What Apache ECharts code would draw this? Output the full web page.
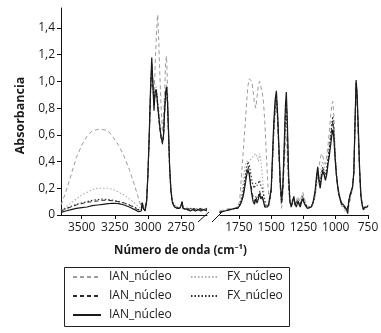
<!DOCTYPE html>
<html>
<head>
<meta charset="utf-8">
<script src="https://cdn.jsdelivr.net/npm/echarts@6/dist/echarts.min.js"></script>
<style>
html,body{margin:0;padding:0;background:#fff;}
#c{width:381px;height:333px;}
</style>
</head>
<body>
<div id="c"></div>
<script>
// ---------- DATA ----------
// Left segment wavenumbers (cm-1)
const wnLeft = [
  3656,3620,3580,3540,3500,3460,3420,3380,3340,3300,
  3260,3220,3180,3140,3100,3070,3050,3043,3035,3022,
  3010,3000,2990,2980,2971,2962,2954,2946,2938,2930,
  2926,2918,2910,2900,2890,2882,2874,2866,2859,2852,
  2844,2836,2826,2816,2800,2780,2760,2750,2742,2735,
  2720,2700,2680,2660,2640,2620,2600,2580,2554
];
// Right segment wavenumbers (cm-1)
const wnRight = [
  1900,1860,1820,1780,1760,1745,1730,1715,1700,1690,
  1680,1670,1660,1650,1640,1630,1620,1610,1600,1590,
  1580,1570,1560,1550,1540,1530,1520,1510,1500,1490,
  1480,1470,1460,1450,1440,1430,1420,1410,1400,1390,
  1383,1375,1365,1355,1345,1335,1325,1315,1305,1295,
  1285,1275,1265,1255,1245,1235,1220,1205,1190,1175,
  1160,1150,1140,1130,1120,1110,1100,1090,1080,1070,
  1060,1050,1040,1030,1023,1015,1005,995,985,975,
  965,955,945,935,925,915,907,900,890,880,
  870,860,850,842,835,825,815,805,795,785,
  775,765,757,750
];

// Series 1: IAN_núcleo (light grey dashed)
const ianLightLeft = [
  0.075,0.17,0.30,0.43,0.52,0.59,0.63,0.64,0.64,0.63,
  0.58,0.52,0.44,0.34,0.22,0.12,0.06,0.10,0.07,0.05,
  0.12,0.30,0.58,0.92,1.05,0.95,0.88,1.10,1.30,1.45,
  1.50,1.30,1.05,0.80,0.62,0.62,0.90,1.15,1.19,0.95,
  0.65,0.38,0.20,0.11,0.07,0.06,0.05,0.06,0.09,0.05,
  0.05,0.04,0.05,0.04,0.05,0.04,0.05,0.04,0.04
];
const ianLightRight = [
  0.03,0.04,0.05,0.05,0.06,0.10,0.30,0.50,0.70,0.85,
  0.97,1.02,1.03,1.00,0.92,0.84,0.80,0.88,0.97,1.00,
  0.96,0.92,0.85,0.70,0.50,0.30,0.15,0.10,0.20,0.40,
  0.60,0.75,0.82,0.70,0.45,0.20,0.05,0.15,0.35,0.55,
  0.60,0.45,0.18,0.10,0.08,0.12,0.10,0.07,0.10,0.14,
  0.12,0.10,0.14,0.17,0.13,0.10,0.07,0.05,0.05,0.08,
  0.14,0.22,0.30,0.36,0.42,0.46,0.44,0.40,0.38,0.44,
  0.52,0.62,0.74,0.83,0.85,0.75,0.50,0.32,0.20,0.14,
  0.10,0.07,0.05,0.04,0.03,0.02,0.03,0.06,0.10,0.15,
  0.20,0.30,0.68,0.97,0.85,0.58,0.30,0.12,0.07,0.04,
  0.05,0.06,0.05,0.06
];

// Series 2: FX_núcleo (light grey dotted)
const fxLightLeft = [
  0.03,0.06,0.09,0.12,0.15,0.17,0.19,0.20,0.20,0.20,
  0.19,0.17,0.15,0.12,0.09,0.06,0.05,0.10,0.06,0.04,
  0.10,0.30,0.60,0.95,1.10,1.00,0.90,0.98,0.96,0.90,
  0.86,0.80,0.70,0.60,0.56,0.62,0.80,0.94,0.98,0.86,
  0.60,0.34,0.17,0.10,0.06,0.05,0.05,0.06,0.09,0.05,
  0.04,0.04,0.04,0.05,0.04,0.04,0.04,0.05,0.04
];
const fxLightRight = [
  0.03,0.03,0.04,0.05,0.05,0.07,0.14,0.28,0.38,0.40,
  0.41,0.41,0.42,0.42,0.44,0.45,0.46,0.44,0.40,0.46,
  0.40,0.30,0.20,0.12,0.08,0.06,0.08,0.09,0.18,0.40,
  0.62,0.78,0.86,0.70,0.48,0.22,0.08,0.18,0.40,0.65,
  0.72,0.55,0.22,0.10,0.07,0.11,0.12,0.08,0.09,0.13,
  0.11,0.08,0.12,0.16,0.12,0.09,0.06,0.05,0.06,0.09,
  0.15,0.24,0.32,0.30,0.28,0.38,0.40,0.36,0.32,0.36,
  0.44,0.52,0.62,0.70,0.72,0.62,0.44,0.30,0.20,0.14,
  0.10,0.08,0.06,0.05,0.04,0.03,0.03,0.08,0.12,0.16,
  0.20,0.30,0.70,0.98,0.88,0.60,0.32,0.13,0.07,0.05,
  0.05,0.06,0.05,0.06
];

// Series 3: IAN_núcleo (dark dashed)
const ianDarkLeft = [
  0.03,0.045,0.06,0.075,0.085,0.095,0.10,0.105,0.11,0.11,
  0.105,0.10,0.09,0.075,0.055,0.035,0.03,0.09,0.05,0.03,
  0.10,0.30,0.58,0.92,1.12,0.98,0.82,0.90,0.92,0.86,
  0.80,0.72,0.64,0.57,0.53,0.58,0.76,0.90,0.93,0.82,
  0.58,0.34,0.17,0.09,0.06,0.05,0.05,0.07,0.10,0.05,
  0.04,0.05,0.04,0.05,0.04,0.05,0.04,0.05,0.04
];
const ianDarkRight = [
  0.02,0.03,0.04,0.05,0.05,0.07,0.10,0.16,0.26,0.33,
  0.37,0.33,0.25,0.18,0.13,0.10,0.14,0.11,0.14,0.18,
  0.14,0.15,0.11,0.07,0.05,0.05,0.07,0.08,0.18,0.42,
  0.66,0.82,0.90,0.72,0.46,0.22,0.08,0.20,0.46,0.76,
  0.86,0.66,0.26,0.10,0.06,0.10,0.13,0.08,0.07,0.11,
  0.09,0.07,0.11,0.13,0.10,0.08,0.05,0.04,0.06,0.09,
  0.16,0.26,0.34,0.27,0.22,0.30,0.34,0.31,0.28,0.32,
  0.40,0.48,0.56,0.66,0.70,0.62,0.44,0.30,0.21,0.15,
  0.11,0.08,0.07,0.06,0.05,0.03,0.02,0.09,0.14,0.17,
  0.21,0.31,0.70,0.99,0.90,0.62,0.33,0.14,0.07,0.04,
  0.05,0.05,0.06,0.07
];

// Series 4: FX_núcleo (dark dotted)
const fxDarkLeft = [
  0.035,0.05,0.065,0.08,0.09,0.10,0.11,0.115,0.12,0.115,
  0.11,0.10,0.09,0.075,0.06,0.04,0.035,0.09,0.05,0.035,
  0.10,0.30,0.58,0.92,1.14,0.98,0.84,0.92,0.94,0.88,
  0.82,0.74,0.66,0.58,0.55,0.60,0.78,0.92,0.95,0.84,
  0.60,0.35,0.18,0.10,0.07,0.06,0.05,0.07,0.10,0.05,
  0.05,0.04,0.05,0.04,0.05,0.04,0.05,0.04,0.05
];
const fxDarkRight = [
  0.02,0.03,0.04,0.05,0.06,0.08,0.12,0.20,0.30,0.36,
  0.40,0.38,0.32,0.26,0.22,0.20,0.24,0.22,0.24,0.26,
  0.22,0.20,0.15,0.10,0.07,0.06,0.07,0.08,0.18,0.40,
  0.64,0.80,0.88,0.72,0.48,0.24,0.09,0.20,0.44,0.72,
  0.82,0.62,0.25,0.10,0.07,0.10,0.12,0.08,0.07,0.11,
  0.10,0.07,0.11,0.14,0.10,0.08,0.06,0.05,0.06,0.09,
  0.16,0.25,0.33,0.28,0.24,0.32,0.36,0.33,0.30,0.34,
  0.42,0.50,0.58,0.68,0.74,0.64,0.46,0.31,0.21,0.15,
  0.11,0.08,0.07,0.06,0.05,0.04,0.03,0.09,0.14,0.17,
  0.21,0.31,0.70,0.98,0.90,0.62,0.33,0.14,0.07,0.04,
  0.05,0.06,0.06,0.07
];

// Series 5: IAN_núcleo (solid black)
const ianSolidLeft = [
  0.02,0.03,0.04,0.05,0.055,0.06,0.07,0.075,0.08,0.085,
  0.088,0.085,0.075,0.06,0.04,0.025,0.03,0.09,0.05,0.03,
  0.10,0.30,0.60,0.95,1.18,0.96,0.78,0.92,0.94,0.87,
  0.82,0.74,0.66,0.58,0.54,0.60,0.78,0.92,0.96,0.85,
  0.62,0.36,0.18,0.10,0.06,0.05,0.05,0.07,0.10,0.05,
  0.04,0.04,0.03,0.04,0.03,0.04,0.03,0.04,0.03
];
const ianSolidRight = [
  0.02,0.03,0.04,0.05,0.05,0.07,0.10,0.15,0.24,0.30,
  0.34,0.30,0.22,0.15,0.10,0.08,0.12,0.09,0.12,0.16,
  0.12,0.14,0.10,0.06,0.05,0.06,0.08,0.08,0.20,0.45,
  0.70,0.86,0.93,0.75,0.50,0.25,0.11,0.22,0.50,0.82,
  0.92,0.70,0.30,0.10,0.06,0.10,0.14,0.08,0.06,0.10,
  0.08,0.06,0.10,0.12,0.09,0.07,0.05,0.04,0.06,0.10,
  0.18,0.28,0.36,0.25,0.20,0.28,0.33,0.30,0.26,0.30,
  0.38,0.44,0.52,0.60,0.64,0.58,0.42,0.30,0.22,0.16,
  0.12,0.09,0.08,0.07,0.06,0.04,0.01,0.10,0.15,0.18,
  0.21,0.32,0.72,1.01,0.92,0.65,0.35,0.15,0.08,0.04,
  0.06,0.05,0.06,0.07
];

// Legend names (zero-width spaces keep the repeated labels distinct)
const seriesNames = ['IAN_núcleo', 'FX_núcleo', 'IAN_núcleo\u200b', 'FX_núcleo\u200b', 'IAN_núcleo\u200b\u200b'];
const xTicksLeft = [3500, 3250, 3000, 2750];
const xTicksRight = [1750, 1500, 1250, 1000, 750];
const yTicks = [0, 0.2, 0.4, 0.6, 0.8, 1.0, 1.2, 1.4];
const xTitle = 'Número de onda (cm⁻¹)';
const yTitle = 'Absorbancia';

// ---------- CHART ----------
const FONT = "'Open Sans', 'Noto Sans', sans-serif";
const TXT = '#1a1a1a';
const styles = [
  {color: '#9c9c9c', width: 1, type: [4, 3]},
  {color: '#b0b0b0', width: 1.1, type: [1.5, 2]},
  {color: '#2a2a2a', width: 1, type: [4, 3]},
  {color: '#2a2a2a', width: 1.1, type: [1.5, 2]},
  {color: '#1a1a1a', width: 1.2, type: 'solid'}
];
const leftData = [ianLightLeft, fxLightLeft, ianDarkLeft, fxDarkLeft, ianSolidLeft];
const rightData = [ianLightRight, fxLightRight, ianDarkRight, fxDarkRight, ianSolidRight];
const zip = (xs, ys) => xs.map((x, i) => [x, ys[i]]);

const series = [];
[0, 1].forEach(g => {
  for (let i = 0; i < 5; i++) {
    series.push({
      type: 'line',
      name: seriesNames[i],
      xAxisIndex: g,
      yAxisIndex: g,
      data: zip(g === 0 ? wnLeft : wnRight, (g === 0 ? leftData : rightData)[i]),
      symbol: 'none',
      lineStyle: styles[i],
      itemStyle: {color: styles[i].color},
      silent: true,
      z: 2 + i
    });
  }
});

const axisLineStyle = {color: '#111', width: 1};
function xAxis(grid, min, max, ticks) {
  return {
    type: 'value', gridIndex: grid, min: min, max: max, inverse: true,
    axisLine: {show: true, onZero: false, lineStyle: axisLineStyle},
    axisTick: {show: true, length: 4, inside: false, customValues: ticks, lineStyle: axisLineStyle},
    axisLabel: {show: true, customValues: ticks, margin: 7, fontFamily: FONT, fontSize: 12, color: TXT,
      formatter: v => String(Math.round(v))},
    splitLine: {show: false}
  };
}
function yAxis(grid, show) {
  return {
    type: 'value', gridIndex: grid, min: 0, max: 1.55, show: show,
    axisLine: {show: true, lineStyle: axisLineStyle},
    axisTick: {show: true, length: 4, customValues: yTicks, lineStyle: axisLineStyle},
    axisLabel: {
      show: true, customValues: yTicks, margin: 6, fontFamily: FONT, fontSize: 12, color: TXT,
      formatter: v => v === 0 ? '0' : v.toFixed(1).replace('.', ',')
    },
    splitLine: {show: false}
  };
}

const legendBase = {
  orient: 'vertical',
  itemWidth: 28, itemHeight: 2, itemGap: 5,
  itemStyle: {opacity: 0, borderWidth: 0},
  padding: 0,
  textStyle: {fontFamily: FONT, fontSize: 12, color: TXT, lineHeight: 14, padding: [0, 0, 0, 3]},
  selectedMode: false
};

const chart = echarts.init(document.getElementById('c'), null, {renderer: 'canvas'});
const option = {
  animation: false,
  backgroundColor: '#fff',
  grid: [
    {left: 61, right: 174, top: 8, bottom: 118, outerBoundsMode: 'none'},
    {left: 220, right: 13, top: 8, bottom: 118, outerBoundsMode: 'none'}
  ],
  xAxis: [xAxis(0, 2554, 3656, xTicksLeft), xAxis(1, 750, 1897, xTicksRight)],
  yAxis: [yAxis(0, true), yAxis(1, false)],
  legend: [
    Object.assign({}, legendBase, {left: 72, top: 270, data: [seriesNames[0], seriesNames[2], seriesNames[4]]}),
    Object.assign({}, legendBase, {left: 190, top: 270, data: [seriesNames[1], seriesNames[3]]})
  ],
  series: series
};
chart.setOption(option);

// Break marks, legend frame and titles
const xEndL = chart.convertToPixel({xAxisIndex: 0}, 2554);
const xStartR = chart.convertToPixel({xAxisIndex: 1}, 1897);
const yAxisPx = chart.convertToPixel({yAxisIndex: 0}, 0);
const yMid = (chart.convertToPixel({yAxisIndex: 0}, 0) + chart.convertToPixel({yAxisIndex: 0}, 1.55)) / 2;
const xMidL = chart.convertToPixel({xAxisIndex: 0}, 3656);
const xEndR = chart.convertToPixel({xAxisIndex: 1}, 750);
chart.setOption({
  graphic: [
    {type: 'line', shape: {x1: xEndL - 9, y1: yAxisPx + 7, x2: xEndL + 2, y2: yAxisPx - 3}, style: {stroke: '#111', lineWidth: 1}},
    {type: 'line', shape: {x1: xStartR - 8, y1: yAxisPx + 7, x2: xStartR + 2, y2: yAxisPx - 3}, style: {stroke: '#111', lineWidth: 1}},
    {type: 'rect', shape: {x: 64.5, y: 267.5, width: 225, height: 59}, style: {fill: 'none', stroke: '#222', lineWidth: 1}},
    {type: 'text', x: (xMidL + xEndR) / 2 - 34, y: yAxisPx + 36,
     style: {text: xTitle, font: "bold 11.5px " + FONT, fill: TXT, align: 'center', verticalAlign: 'middle'}},
    {type: 'text', x: 20, y: yMid + 4, rotation: Math.PI / 2,
     style: {text: yTitle, font: "bold 12.5px " + FONT, fill: TXT, align: 'center', verticalAlign: 'middle'}}
  ]
});
</script>
</body>
</html>
